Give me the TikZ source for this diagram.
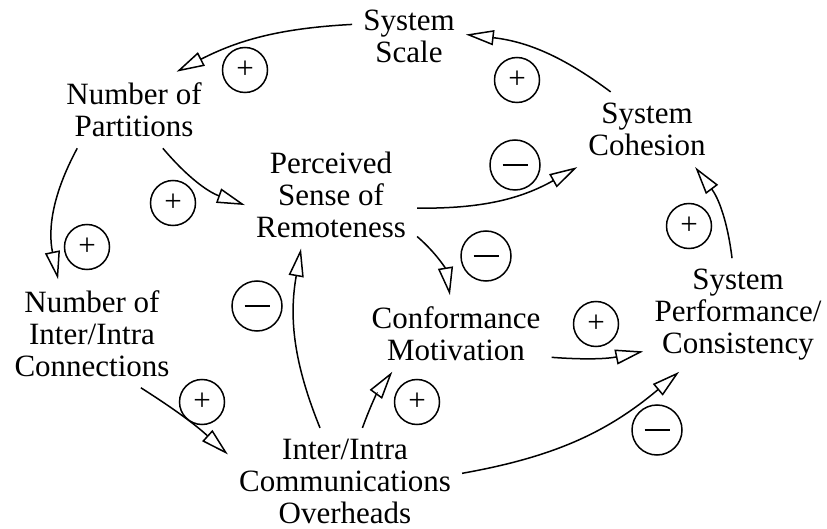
\documentclass[tikz,border=0pt]{standalone}
\usepackage{fontspec}
\setmainfont{Liberation Serif}
\usetikzlibrary{arrows.meta}

\begin{document}
\begin{tikzpicture}[x=1pt, y=-1pt, var/.style={align=center, inner sep=11pt, font=\fontsize{31}{32}\selectfont}, link/.style={-{Triangle[open, length=28pt, width=15pt]}, line width=1.5pt}, polplus/.style={draw, circle, line width=1.5pt, minimum size=45pt, inner sep=0pt, font=\fontsize{31}{32}\selectfont}, polminus/.style={draw, circle, line width=1.5pt, minimum size=50pt, inner sep=0pt}]
\useasboundingbox (0,0) rectangle (827,529);
% variables
\node[var] (scale) at (409,36.5) {System\\Scale};
\node[var] (part) at (134,110) {Number of\\Partitions};
\node[var] (conn) at (92,333.5) {Number of\\Inter/Intra\\Connections};
\node[var] (remote) at (331,194.5) {Perceived\\Sense of\\Remoteness};
\node[var] (coh) at (647,129.5) {System\\Cohesion};
\node[var] (conf) at (456,333.5) {Conformance\\Motivation};
\node[var] (perf) at (738,315) {System\\Performance/\\Consistency};
\node[var] (over) at (345,481.5) {Inter/Intra\\Communications\\Overheads};
% links
\draw[link] (scale.168) to[bend right=12] (part.42);
\draw[link] (coh.134) to[bend right=15] (scale.2);
\draw[link] (part.214) to[bend right=20] (conn.122);
\draw[link] (part.-53) to[bend right=15] (remote.187);
\draw[link] (remote.-9) to[bend right=15] (coh.south west);
\draw[link] (remote.-26) to[bend left=20] (conf.99);
\draw[link] (conf.-14) to[bend right=8] (perf.201);
\draw[link] (perf.96) to[bend right=15] (coh.-38);
\draw[link] (conn.-48) to[bend left=5] (over.167);
\draw[link] (over.115) to[bend left=16] (remote.241);
\draw[link] (over.72) to[bend left=8] (conf.211);
\draw[link] (over.4) to[bend right=15] (perf.224);
% polarities
\node[polplus] (p1) at (245,70) {+};
\node[polplus] (p2) at (517,80) {+};
\node[polplus] (p3) at (87,247) {+};
\node[polplus] (p4) at (173,203) {+};
\node[polminus] (p5) at (515,165) {\rule{25pt}{1.4pt}};
\node[polminus] (p6) at (486,256) {\rule{25pt}{1.4pt}};
\node[polplus] (p7) at (596,324) {+};
\node[polplus] (p8) at (689,226) {+};
\node[polplus] (p9) at (202,402) {+};
\node[polminus] (p10) at (257,306) {\rule{25pt}{1.4pt}};
\node[polplus] (p11) at (417,402) {+};
\node[polminus] (p12) at (657,430) {\rule{25pt}{1.4pt}};
\end{tikzpicture}
\end{document}
